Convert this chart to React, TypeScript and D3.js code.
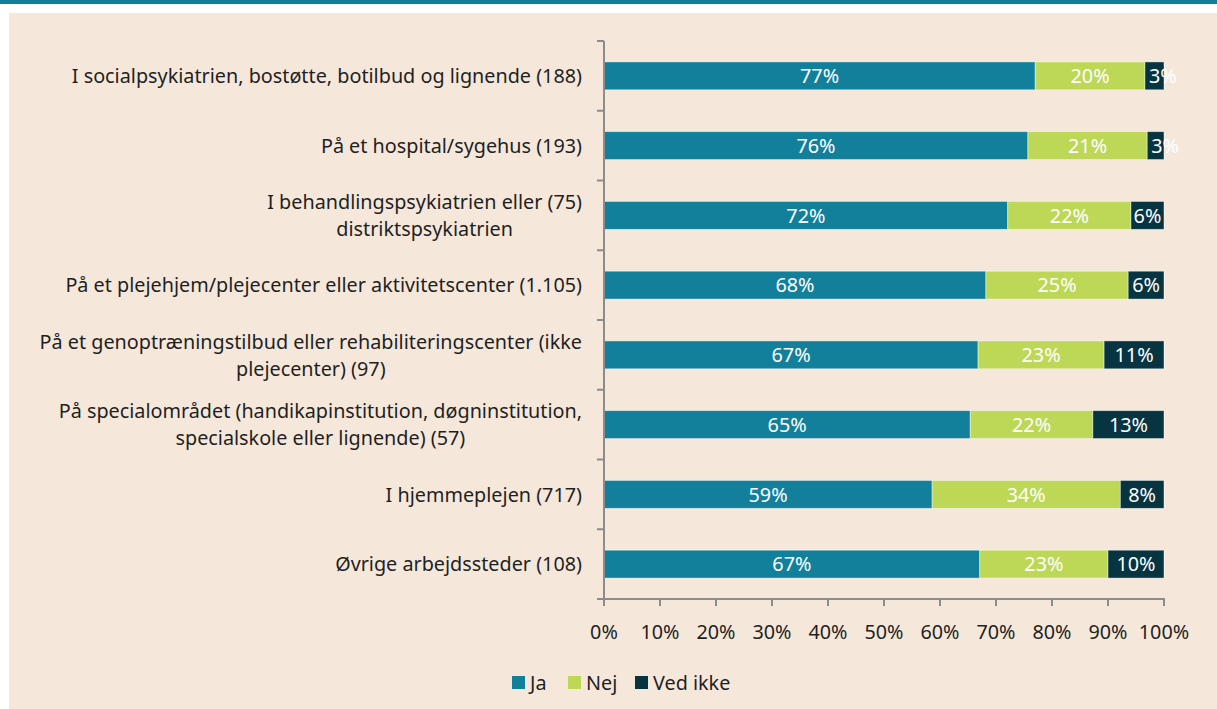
import React from "react";
import * as d3 from "d3";

const categories: string[][] = [
  ["I socialpsykiatrien, bostøtte, botilbud og lignende (188)"],
  ["På et hospital/sygehus (193)"],
  ["I behandlingspsykiatrien eller (75)", "distriktspsykiatrien"],
  ["På et plejehjem/plejecenter eller aktivitetscenter (1.105)"],
  ["På et genoptræningstilbud eller rehabiliteringscenter (ikke", "plejecenter) (97)"],
  ["På specialområdet (handikapinstitution, døgninstitution,", "specialskole eller lignende) (57)"],
  ["I hjemmeplejen (717)"],
  ["Øvrige arbejdssteder (108)"],
];

const ja = [77.0, 75.7, 72.1, 68.2, 66.8, 65.4, 58.6, 67.1];
const nej = [19.6, 21.3, 22.0, 25.4, 22.5, 21.9, 33.6, 22.9];
const vedIkke = [3.4, 3.0, 5.9, 6.4, 10.7, 12.7, 7.8, 10.0];

const seriesNames = ["Ja", "Nej", "Ved ikke"];
const seriesColors = ["#127F9B", "#BDD756", "#063441"];
const xTicks = [0, 10, 20, 30, 40, 50, 60, 70, 80, 90, 100];

const W = 1217;
const H = 709;
const FONT = "'Noto Sans', 'Open Sans', sans-serif";
const FS = 19.8;
const TEXT = "#1f1f1f";

export default function App() {
  const x = d3.scaleLinear().domain([0, 100]).range([604, 1164]);
  const idx = categories.map((_, i) => String(i));
  const y = d3.scaleBand().domain(idx).range([41, 599]).paddingInner(0.6).paddingOuter(0.3);
  const step = y.step();
  const rows = categories.map((c, i) => ({ i: String(i), Ja: ja[i], Nej: nej[i], "Ved ikke": vedIkke[i] }));
  const stack = d3.stack<any>().keys(seriesNames)(rows);
  const boundaries = d3.range(categories.length + 1).map((k) => 41 + k * step);
  const lineH = 27;

  React.useEffect(() => {
    document.body.style.margin = "0";
  }, []);

  return (
    <svg width={W} height={H} style={{ display: "block", fontFamily: FONT }}>
      <rect x={0} y={0} width={W} height={H} fill="#ffffff" />
      <rect x={0} y={0} width={W} height={4} fill="#117E9A" />
      <rect x={9} y={13} width={W - 9} height={H - 13} fill="#F5E8DB" />

      {stack.map((s, si) =>
        s.map((d, i) => {
          const x0 = x(d[0]);
          const x1 = x(d[1]);
          const yy = y(String(i))!;
          const bw = y.bandwidth();
          return (
            <rect
              key={`${si}-${i}`}
              x={x0}
              y={yy}
              width={x1 - x0}
              height={bw}
              fill={seriesColors[si]}
              stroke="rgba(255,255,255,0.55)"
              strokeWidth={0.8}
            />
          );
        })
      )}
      {stack.map((s, si) =>
        s.map((d, i) => {
          const x0 = x(d[0]);
          const x1 = x(d[1]);
          const yy = y(String(i))!;
          const bw = y.bandwidth();
          const label = `${Math.round(d[1] - d[0])}%`;
          const estW = label.length * 0.6 * FS;
          const fits = estW <= x1 - x0;
          return (
            <text
              key={`t${si}-${i}`}
              x={fits ? (x0 + x1) / 2 : x0 + 4}
              y={yy + bw / 2}
              dy="0.36em"
              textAnchor={fits ? "middle" : "start"}
              fill="#ffffff"
              fontSize={FS}
            >
              {label}
            </text>
          );
        })
      )}

      {/* y axis */}
      <line x1={604} x2={604} y1={41} y2={599} stroke="#8C8C8C" strokeWidth={2} />
      {boundaries.map((b, k) => (
        <line key={k} x1={597} x2={604} y1={b} y2={b} stroke="#8C8C8C" strokeWidth={2} />
      ))}
      {/* x axis */}
      <line x1={597} x2={1165} y1={599} y2={599} stroke="#8C8C8C" strokeWidth={2} />
      {xTicks.map((t) => (
        <g key={t}>
          <line x1={x(t)} x2={x(t)} y1={599} y2={606} stroke="#8C8C8C" strokeWidth={2} />
          <text x={x(t)} y={639} textAnchor="middle" fontSize={FS} fill={TEXT}>
            {t}%
          </text>
        </g>
      ))}

      {/* category labels */}
      {categories.map((lines, i) => {
        const cy = y(String(i))! + y.bandwidth() / 2;
        return <CatLabel key={i} lines={lines} cy={cy} right={582} lineH={lineH} />;
      })}

      {/* legend */}
      {seriesNames.map((name, k) => {
        const lx = [512, 568, 635][k];
        return (
          <g key={name}>
            <rect x={lx} y={676} width={13} height={13} fill={seriesColors[k]} />
            <text x={lx + 18} y={690} fontSize={FS} fill={TEXT}>
              {name}
            </text>
          </g>
        );
      })}
    </svg>
  );
}

function CatLabel({ lines, cy, right, lineH }: { lines: string[]; cy: number; right: number; lineH: number }) {
  const ref = React.useRef<SVGGElement>(null);
  const [w, setW] = React.useState(0);
  React.useLayoutEffect(() => {
    if (ref.current) {
      const bb = ref.current.getBBox();
      setW(bb.width);
    }
  }, []);
  const n = lines.length;
  const cx = right - w / 2;
  return (
    <g ref={ref} transform={`translate(${w ? cx : -9999},0)`}>
      {lines.map((l, j) => (
        <text
          key={j}
          x={0}
          y={cy + (j - (n - 1) / 2) * lineH}
          dy="0.36em"
          textAnchor="middle"
          fontSize={FS}
          fill={TEXT}
        >
          {l}
        </text>
      ))}
    </g>
  );
}
